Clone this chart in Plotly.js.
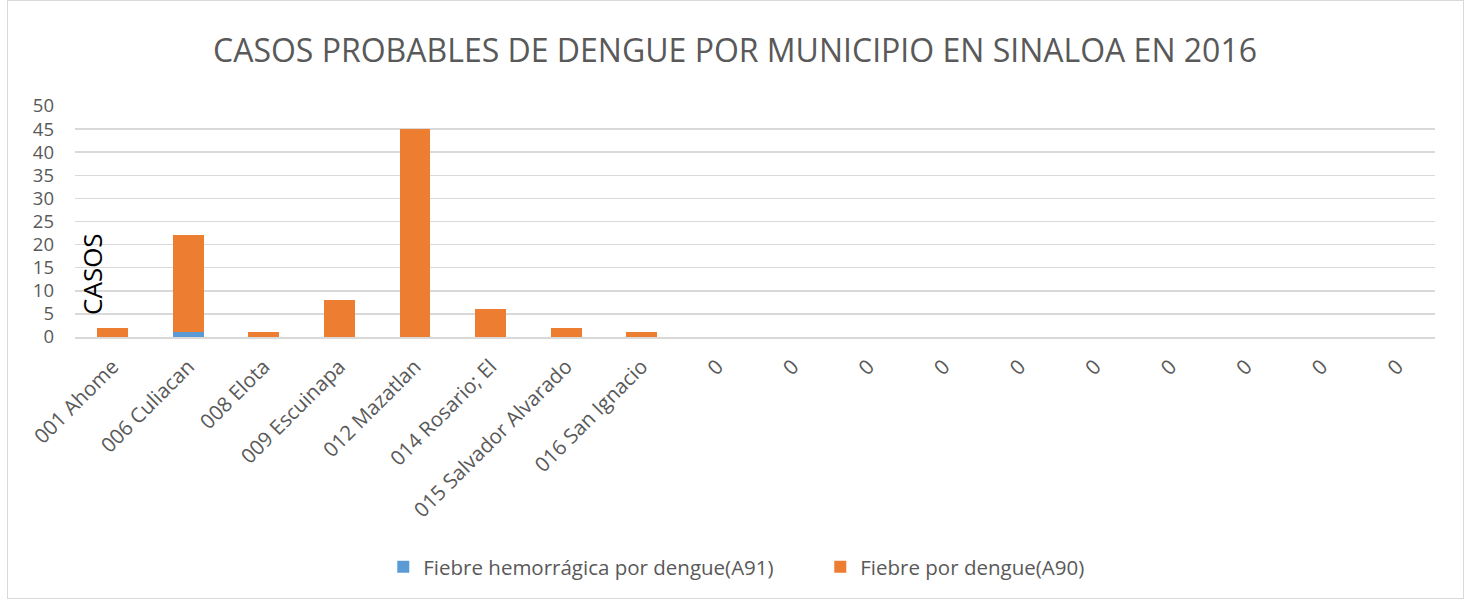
<!DOCTYPE html>
<html>
<head>
<meta charset="utf-8">
<script src="https://cdn.plot.ly/plotly-3.0.1.min.js"></script>
<style>
  html, body { margin: 0; padding: 0; background: #fff; }
  #frame { position: absolute; left: 7px; top: 0px; width: 1457px; height: 599px; border: 1px solid #d9d9d9; box-sizing: border-box; }
  #chart { position: absolute; left: 0; top: 0; width: 1470px; height: 601px; }
</style>
</head>
<body>
<div id="frame"></div>
<div id="chart"></div>
<script>
const categories = ["001 Ahome", "006 Culiacan", "008 Elota", "009 Escuinapa", "012 Mazatlan",
  "014 Rosario; El", "015 Salvador Alvarado", "016 San Ignacio",
  "0", "0", "0", "0", "0", "0", "0", "0", "0", "0"];
const hemorragica = [0, 1, 0, 0, 0, 0, 0, 0, 0, 0, 0, 0, 0, 0, 0, 0, 0, 0];
const fiebre = [2, 21, 1, 8, 45, 6, 2, 1, 0, 0, 0, 0, 0, 0, 0, 0, 0, 0];
const seriesNames = ["Fiebre hemorrágica por dengue(A91)", "Fiebre por dengue(A90)"];
const yTicks = [0, 5, 10, 15, 20, 25, 30, 35, 40, 45, 50];

const positions = categories.map((c, i) => i);
const font = "Open Sans, Liberation Sans, sans-serif";
const gray = "#595959";

const traces = [
  { type: "bar", name: seriesNames[0], x: positions, y: hemorragica, marker: { color: "#5b9bd5" } },
  { type: "bar", name: seriesNames[1], x: positions, y: fiebre, marker: { color: "#ed7d31" } }
];

const layout = {
  width: 1470, height: 601,
  paper_bgcolor: "rgba(0,0,0,0)", plot_bgcolor: "rgba(0,0,0,0)",
  margin: { l: 75, r: 35, t: 106, b: 264 },
  barmode: "stack",
  bargap: 0.59,
  showlegend: true,
  title: { text: "CASOS PROBABLES DE DENGUE POR MUNICIPIO EN SINALOA EN 2016",
    font: { family: font, size: 32, color: gray }, x: 0.5, xanchor: "center", y: 0.915, yanchor: "middle" },
  xaxis: {
    tickmode: "array", tickvals: positions, ticktext: categories,
    range: [-0.5, categories.length - 0.5],
    tickangle: -45, tickfont: { family: font, size: 20.5, color: gray },
    ticklabelstandoff: 8,
    showgrid: false, zeroline: false, showline: true, linecolor: "#d9d9d9", linewidth: 1.5,
    ticks: "", fixedrange: true
  },
  yaxis: {
    range: [0, 50], tickmode: "array", tickvals: yTicks, ticktext: yTicks.map(String),
    tickfont: { family: font, size: 18.5, color: gray },
    ticklabelstandoff: 20,
    showgrid: true, gridcolor: "#d9d9d9", gridwidth: 1.5,
    zeroline: false, showline: false, ticks: "", ticklen: 0,
    automargin: false
  },
  legend: {
    orientation: "h", x: 0.548, xanchor: "center", y: -0.995, yanchor: "middle",
    font: { family: font, size: 20.5, color: gray },
    traceorder: "normal", itemwidth: 30, entrywidth: 392
  },
  annotations: [{
    text: "CASOS", textangle: -90, xref: "paper", yref: "paper",
    x: 0.0125, y: 0.273, xanchor: "center", yanchor: "middle", showarrow: false,
    font: { family: font, size: 26, color: "#000000" }
  }]
};

Plotly.newPlot("chart", traces, layout, { displayModeBar: false, staticPlot: true });
</script>
</body>
</html>
